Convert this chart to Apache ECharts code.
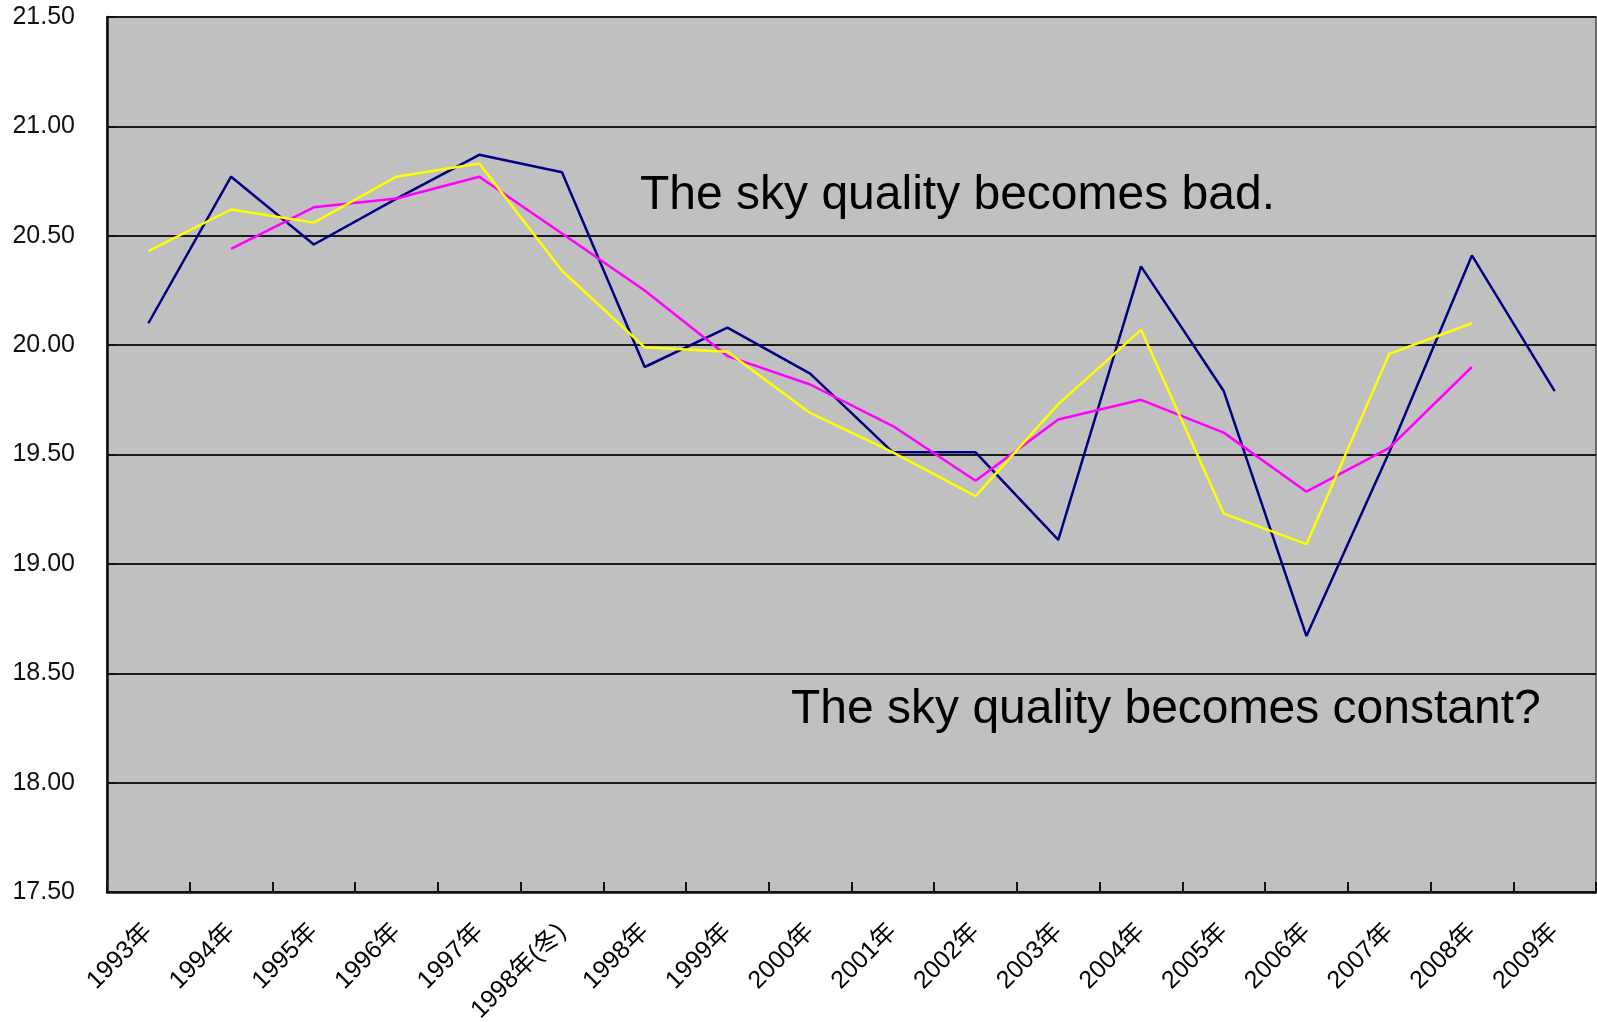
<!DOCTYPE html>
<html>
<head>
<meta charset="utf-8">
<script src="https://cdn.jsdelivr.net/npm/echarts@6/dist/echarts.min.js"></script>
<style>
  html, body { margin: 0; padding: 0; background: #ffffff; }
  #chart { width: 1597px; height: 1022px; }
</style>
</head>
<body>
<div id="chart"></div>
<script>
// ---- data ----
var categories = ['1993年','1994年','1995年','1996年','1997年','1998年(冬)','1998年','1999年','2000年','2001年','2002年','2003年','2004年','2005年','2006年','2007年','2008年','2009年'];
var seriesBlue = [20.10, 20.77, 20.46, 20.67, 20.87, 20.79, 19.90, 20.08, 19.87, 19.51, 19.51, 19.11, 20.36, 19.79, 18.67, 19.51, 20.41, 19.79];
var seriesMagenta = [null, 20.44, 20.63, 20.67, 20.77, 20.51, 20.25, 19.95, 19.82, 19.63, 19.38, 19.66, 19.75, 19.60, 19.33, 19.53, 19.90, null];
var seriesYellow = [20.43, 20.62, 20.56, 20.77, 20.83, 20.34, 19.99, 19.97, 19.69, 19.51, 19.31, 19.73, 20.07, 19.23, 19.09, 19.96, 20.10, null];
var yMin = 17.5, yMax = 21.5, yStep = 0.5;
var noteTop = 'The sky quality becomes bad.';
var noteBottom = 'The sky quality becomes constant?';

var chart = echarts.init(document.getElementById('chart'), null, { renderer: 'canvas' });
var FONT = "'Liberation Sans', Arial, 'Noto Sans CJK JP', sans-serif";

function lineSeries(name, data, color) {
  return {
    name: name, type: 'line', data: data,
    showSymbol: false, symbol: 'none', connectNulls: false,
    lineStyle: { color: color, width: 2.5 },
    itemStyle: { color: color },
    animation: false
  };
}

chart.setOption({
  animation: false,
  backgroundColor: '#ffffff',
  grid: {
    left: 107, top: 17, right: 1, bottom: 130,
    containLabel: false,
    outerBoundsMode: 'none',
    show: true, backgroundColor: '#c0c0c0',
    borderColor: '#6e6e6e', borderWidth: 2
  },
  xAxis: {
    type: 'category',
    data: categories,
    boundaryGap: true,
    axisLine: { show: true, lineStyle: { color: '#111', width: 2.5 } },
    axisTick: { show: true, inside: true, length: 10, alignWithLabel: false, lineStyle: { color: '#111', width: 2 } },
    axisLabel: {
      rotate: 45, margin: 36, interval: 0,
      color: '#000', fontSize: 25, fontFamily: FONT
    },
    splitLine: { show: false }
  },
  yAxis: {
    type: 'value',
    min: yMin, max: yMax, interval: yStep,
    axisLine: { show: true, onZero: false, lineStyle: { color: '#111', width: 2.5 } },
    axisTick: { show: true, inside: true, length: 10, lineStyle: { color: '#111', width: 2 } },
    axisLabel: {
      margin: 32, color: '#111', fontSize: 25, fontFamily: FONT,
      formatter: function (v) { return v.toFixed(2); }
    },
    splitLine: { show: true, lineStyle: { color: '#1a1a1a', width: 2 } }
  },
  series: [
    lineSeries('A', seriesBlue, '#000080'),
    lineSeries('B', seriesMagenta, '#ff00ff'),
    lineSeries('C', seriesYellow, '#ffff00')
  ],
  graphic: [
    {
      type: 'text', z: 100,
      style: { x: 640, y: 196, text: noteTop, fill: '#000', font: "48px 'Liberation Sans', Arial, sans-serif", align: 'left', verticalAlign: 'middle' }
    },
    {
      type: 'text', z: 100,
      style: { x: 791, y: 710, text: noteBottom, fill: '#000', font: "48px 'Liberation Sans', Arial, sans-serif", align: 'left', verticalAlign: 'middle' }
    }
  ]
});
</script>
</body>
</html>
